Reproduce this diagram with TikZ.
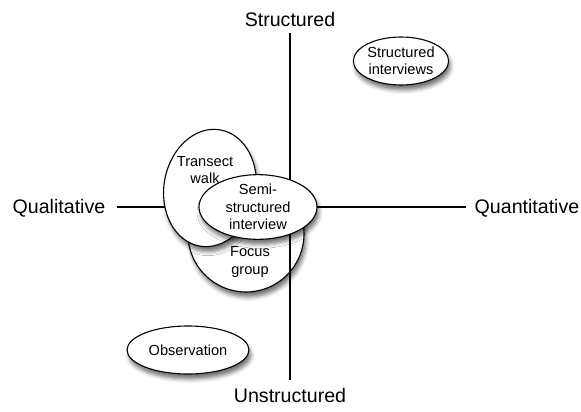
\documentclass[tikz,border=0pt]{standalone}
\usepackage{fontspec}
\setmainfont{Liberation Sans}
\usetikzlibrary{shapes.geometric,shadows.blur}
\begin{document}
\begin{tikzpicture}[x=1pt,y=-1pt,
  blob/.style={ellipse, draw=black, line width=1.1pt, fill=white, inner sep=0pt,
    align=center, font=\fontsize{14.6}{17.5}\selectfont,
    blur shadow={shadow xshift=2pt, shadow yshift=-5pt, shadow blur radius=4pt, shadow opacity=55}},
  axislab/.style={font=\fontsize{19.6}{23}\selectfont},
  axis/.style={line width=1.3pt}]
\useasboundingbox (0,0) rectangle (581,412);
% focus group (behind)
\node[blob, minimum width=116pt, minimum height=116pt] (fg) at (246,234) {};
\node[font=\fontsize{14.6}{17.5}\selectfont, align=center] (fgt) at (250,262) {Focus\\group};
% axes
\coordinate (top) at (290,33);
\coordinate (bot) at (290,380);
\coordinate (lft) at (117,207);
\coordinate (rgt) at (466,207);
\draw[axis] (top) -- (bot);
\draw[axis] (lft) -- (rgt);
% transect walk
\node[blob, minimum width=92pt, minimum height=118pt, rotate=-10] (tw) at (210,188) {};
\node[font=\fontsize{14.6}{17.5}\selectfont, align=center] (twt) at (205,170) {Transect\\walk};
% semi-structured
\node[blob, minimum width=118pt, minimum height=48pt] (ss) at (258,207) {Semi-\\structured\\interview};
% others
\node[blob, minimum width=88pt, minimum height=48pt] (si) at (401,61) {Structured\\interviews};
\node[blob, minimum width=122pt, minimum height=48pt] (ob) at (188,350) {Observation};
% axis labels
\node[axislab] (ls) at (290,19) {Structured};
\node[axislab] (lu) at (290,395) {Unstructured};
\node[axislab] (lq) at (59,208) {Qualitative};
\node[axislab] (lqn) at (527,208) {Quantitative};
\end{tikzpicture}
\end{document}
